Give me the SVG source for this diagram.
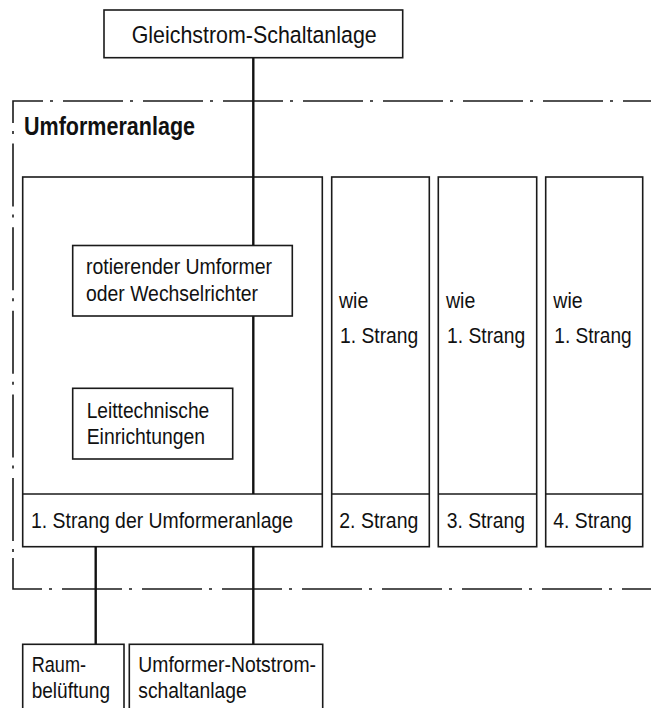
<svg xmlns="http://www.w3.org/2000/svg" width="651" height="708" viewBox="0 0 651 708">
<style>
.box{fill:#fff;stroke:#1a1a1a;stroke-width:1.6}
.div{fill:none;stroke:#1a1a1a;stroke-width:1.6}
.conn{fill:none;stroke:#111;stroke-width:2.4}
.bnd{fill:none;stroke:#1a1a1a;stroke-width:1.6}
text{font-family:"Liberation Sans",Arial,sans-serif;font-size:22px;fill:#111}
.title{font-size:24.5px}
.bold{font-weight:bold;font-size:25px}
</style>
<rect width="651" height="708" fill="#fff"/>

<g id="umformeranlage">
<path class="bnd" d="M13,123 V101 H651" stroke-dasharray="60 7 3 10" stroke-dashoffset="8"/>
<path class="bnd" d="M13,123 V555" stroke-dasharray="63 8 3 9.6" stroke-dashoffset="63"/>
<path class="bnd" d="M13,558 V589 H651" stroke-dasharray="60 7 3 10"/>
<text class="bold" x="24" y="135" textLength="171" lengthAdjust="spacingAndGlyphs">Umformeranlage</text>
</g>

<g id="strang-1">
<rect class="box" x="22.7" y="177" width="299.6" height="369.7"/>
<line class="div" x1="22.7" y1="494" x2="322.3" y2="494"/>
<text x="31" y="528" textLength="262" lengthAdjust="spacingAndGlyphs">1. Strang der Umformeranlage</text>
</g>

<g id="strang-2">
<rect class="box" x="331.7" y="177" width="97.6" height="369.7"/>
<line class="div" x1="331.7" y1="494" x2="429.3" y2="494"/>
<text x="339" y="308" textLength="29.3" lengthAdjust="spacingAndGlyphs">wie</text>
<text x="340" y="343" textLength="78.3" lengthAdjust="spacingAndGlyphs">1. Strang</text>
<text x="339.3" y="528" textLength="79" lengthAdjust="spacingAndGlyphs">2. Strang</text>
</g>

<g id="strang-3">
<rect class="box" x="438.3" y="177" width="98.4" height="369.7"/>
<line class="div" x1="438.3" y1="494" x2="536.7" y2="494"/>
<text x="446" y="308" textLength="29.3" lengthAdjust="spacingAndGlyphs">wie</text>
<text x="447" y="343" textLength="78.3" lengthAdjust="spacingAndGlyphs">1. Strang</text>
<text x="446.7" y="528" textLength="78.3" lengthAdjust="spacingAndGlyphs">3. Strang</text>
</g>

<g id="strang-4">
<rect class="box" x="545.7" y="177" width="97" height="369.7"/>
<line class="div" x1="545.7" y1="494" x2="642.7" y2="494"/>
<text x="553.3" y="308" textLength="29.3" lengthAdjust="spacingAndGlyphs">wie</text>
<text x="554.3" y="343" textLength="77.4" lengthAdjust="spacingAndGlyphs">1. Strang</text>
<text x="553.3" y="528" textLength="78.4" lengthAdjust="spacingAndGlyphs">4. Strang</text>
</g>

<g id="connectors">
<line class="conn" x1="253.3" y1="57.7" x2="253.3" y2="494"/>
<line class="conn" x1="253.3" y1="546.7" x2="253.3" y2="644.3"/>
<line class="conn" x1="95.7" y1="546.7" x2="95.7" y2="644.3"/>
</g>

<g id="gleichstrom-schaltanlage">
<rect class="box" x="104" y="10" width="298.7" height="47.7"/>
<text class="title" x="131.7" y="43" textLength="245" lengthAdjust="spacingAndGlyphs">Gleichstrom-Schaltanlage</text>
</g>

<g id="rotierender-umformer">
<rect class="box" x="72.7" y="245.5" width="219.6" height="70.5"/>
<text x="86" y="274" textLength="186" lengthAdjust="spacingAndGlyphs">rotierender Umformer</text>
<text x="86" y="301" textLength="172" lengthAdjust="spacingAndGlyphs">oder Wechselrichter</text>
</g>

<g id="leittechnische-einrichtungen">
<rect class="box" x="72.7" y="388.3" width="160" height="70.7"/>
<text x="86.7" y="417.7" textLength="122.6" lengthAdjust="spacingAndGlyphs">Leittechnische</text>
<text x="86.7" y="444" textLength="118.3" lengthAdjust="spacingAndGlyphs">Einrichtungen</text>
</g>

<g id="raumbelueftung">
<rect class="box" x="22.7" y="644.3" width="101.3" height="80"/>
<text x="31.7" y="671.7" textLength="54.3" lengthAdjust="spacingAndGlyphs">Raum-</text>
<text x="31.7" y="698.3" textLength="78.3" lengthAdjust="spacingAndGlyphs">belüftung</text>
</g>

<g id="umformer-notstrom-schaltanlage">
<rect class="box" x="129.3" y="644.3" width="193.4" height="80"/>
<text x="138.3" y="671.7" textLength="177.7" lengthAdjust="spacingAndGlyphs">Umformer-Notstrom-</text>
<text x="138.3" y="698.3" textLength="108.4" lengthAdjust="spacingAndGlyphs">schaltanlage</text>
</g>
</svg>
